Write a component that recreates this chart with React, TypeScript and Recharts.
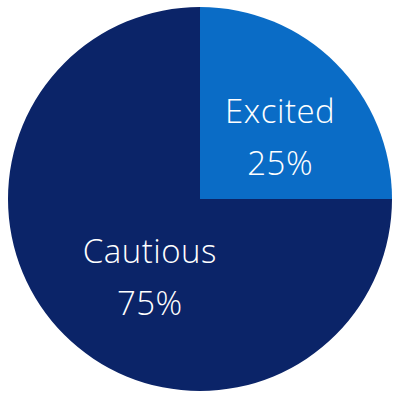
import { PieChart, Pie, Cell } from 'recharts'

const categories = ['Excited', 'Cautious']
const shares = [25, 75]
const colors = ['#0a6cc6', '#0b2468']

const data = categories.map((name, i) => ({ name, value: shares[i] }))

const RADIAN = Math.PI / 180

// two-line label: name on top, percentage below
function renderLabel(props: any) {
  const { cx, cy, midAngle, outerRadius, name, percent } = props
  const x = cx + outerRadius * 0.48 * Math.cos(-midAngle * RADIAN) + 15
  const y = cy + outerRadius * 0.515 * Math.sin(-midAngle * RADIAN)
  return (
    <text
      x={x}
      y={y}
      fill="#fff"
      textAnchor="middle"
      fontFamily="'Open Sans', sans-serif"
      fontWeight={300}
      fontSize={33}
      letterSpacing={0.5}
    >
      <tspan x={x} dy={-6}>{name}</tspan>
      <tspan x={x} dy={52}>{`${Math.round(percent * 100)}%`}</tspan>
    </text>
  )
}

export default function App() {
  return (
    <div style={{ position: 'absolute', left: 0, top: 0, width: 400, height: 400, background: '#fff' }}>
      <PieChart width={400} height={400} margin={{ top: 0, right: 0, bottom: 0, left: 0 }}>
        <Pie
          data={data}
          dataKey="value"
          nameKey="name"
          cx={200}
          cy={199}
          outerRadius={192}
          startAngle={90}
          endAngle={-270}
          stroke="none"
          labelLine={false}
          label={renderLabel}
          isAnimationActive={false}
        >
          {data.map((d, i) => (
            <Cell key={d.name} fill={colors[i]} />
          ))}
        </Pie>
      </PieChart>
    </div>
  )
}
